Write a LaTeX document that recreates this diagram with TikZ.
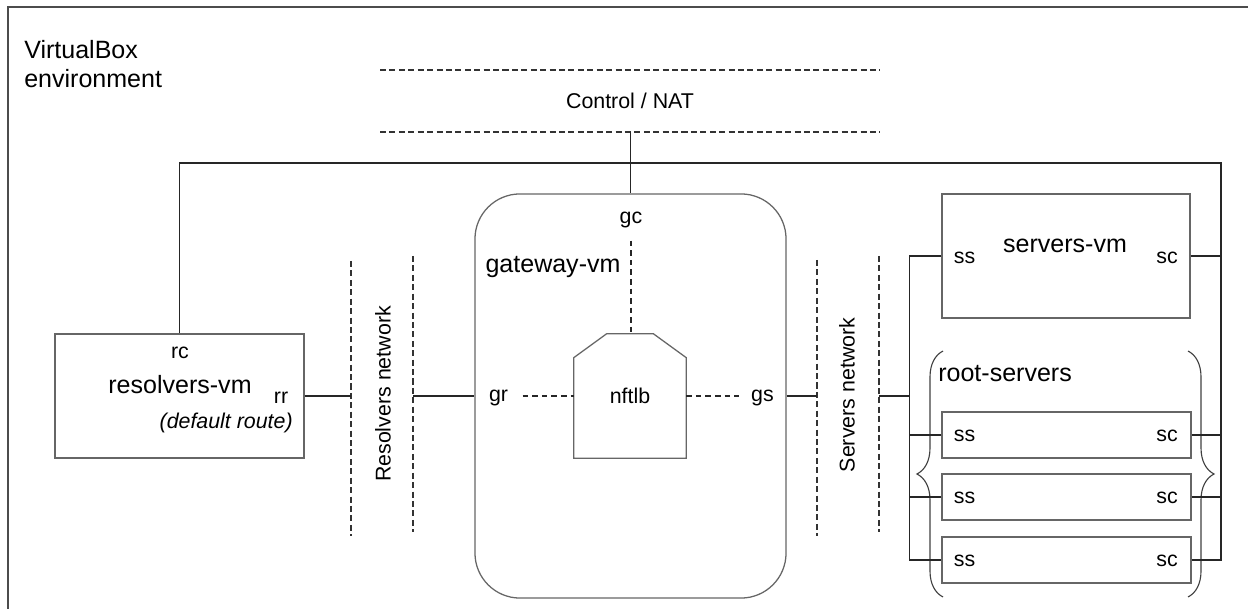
\documentclass[tikz,border=0pt]{standalone}
\usepackage{fontspec}
\setmainfont{Liberation Sans}
\usetikzlibrary{positioning, calc, decorations.pathreplacing}

\begin{document}
\begin{tikzpicture}[
  x=0.025cm, y=-0.025cm,
  grande/.style={font=\fontsize{17.8}{20.6}\selectfont, inner sep=0pt},
  piccolo/.style={font=\fontsize{15.2}{18}\selectfont, inner sep=0pt},
  vmbox/.style={draw=black!60, line width=0.9pt, inner sep=0pt},
  filo/.style={draw=black!85, line width=0.75pt},
  rete/.style={draw=black!80, line width=0.8pt, dash pattern=on 4.3pt off 2.4pt},
  interno/.style={draw=black!85, line width=0.8pt, dash pattern=on 4pt off 2.8pt},
  graffa/.style={draw=black!75, line width=0.8pt, decorate,
                 decoration={brace, amplitude=0.65cm}}
]
\useasboundingbox (0,0) rectangle (1248,609);

%--------------------------------------------------------------
% Cornice dell'ambiente
%--------------------------------------------------------------
\draw[draw=black!70, line width=1.4pt] (8,7) rectangle (1300,700);
\node[grande, align=left, anchor=north west] (vbox) at (24,40)
  {VirtualBox\\environment};

%--------------------------------------------------------------
% Rete Control / NAT
%--------------------------------------------------------------
\draw[rete] (380,70) -- (880,70);
\draw[rete] (380,132) -- (880,132);
\node[piccolo] (nat) at (630,101) {Control / NAT};
\coordinate (natbus) at (630.5,132);
\coordinate (busC) at (1221,163);

%--------------------------------------------------------------
% resolvers-vm
%--------------------------------------------------------------
\node[vmbox, minimum width=6.225cm, minimum height=3.1cm] (resolvers) at (179.5,396) {};
\node[piccolo] (rc) at (180,352.5) {rc};
\node[grande] (resname) at (180,384.5) {resolvers-vm};
\node[piccolo] (rr) at (281,397.5) {rr};
\node[piccolo, anchor=east] (defroute) at (293,422.5) {\itshape (default route)};

%--------------------------------------------------------------
% Resolvers network
%--------------------------------------------------------------
\draw[rete] (351,261) -- (351,536);
\draw[rete] (413,256) -- (413,532);
\coordinate (rnA) at (351,396);
\coordinate (rnB) at (413,396);
\node[piccolo, rotate=90] (rnlabel) at (383,394) {Resolvers network};

%--------------------------------------------------------------
% gateway-vm con nftlb
%--------------------------------------------------------------
\node[vmbox, rounded corners=1.125cm, minimum width=7.775cm, minimum height=10.1cm]
  (gateway) at (630.5,396) {};
\node[grande] (gwname) at (553,266.7) {gateway-vm};
\node[piccolo] (gc) at (631,220) {gc};
\node[piccolo] (gr) at (498.5,398) {gr};
\node[piccolo] (gs) at (762.5,398) {gs};

\node[piccolo, minimum width=2.8cm, minimum height=3.1cm] (nftlb) at (630,396) {nftlb};
\draw[vmbox] (nftlb.south west) -- ($(nftlb.north west)+(0,24)$)
  -- ($(nftlb.north west)+(33,0)$) -- ($(nftlb.north east)+(-33,0)$)
  -- ($(nftlb.north east)+(0,24)$) -- (nftlb.south east) -- cycle;

\draw[interno] ($(nftlb.north)+(1,-93)$) -- ($(nftlb.north)+(1,0)$);
\draw[interno] ($(nftlb.west)+(-51,0)$) -- (nftlb.west);
\draw[interno] (nftlb.east) -- ++(53,0);

%--------------------------------------------------------------
% Servers network
%--------------------------------------------------------------
\draw[rete] (817,260) -- (817,536);
\draw[rete] (879,256) -- (879,532);
\coordinate (snA) at (817,396);
\coordinate (snB) at (879,396);
\node[piccolo, rotate=90] (snlabel) at (847,395) {Servers network};

%--------------------------------------------------------------
% servers-vm e root-servers
%--------------------------------------------------------------
\node[vmbox, minimum width=6.2cm, minimum height=3.1cm] (servers) at (1066,256) {};
\node[grande] (srvname) at (1065,245.6) {servers-vm};
\node[piccolo] (ss0) at (964.5,258) {ss};
\node[piccolo] (sc0) at (1167,258) {sc};

\node[grande, anchor=west] (rootname) at (938,374) {root-servers};
\foreach \n/\y in {1/435, 2/497, 3/560}{
  \node[vmbox, minimum width=6.225cm, minimum height=1.15cm] (root\n) at (1066.5,\y) {};
  \node[piccolo] (ss\n) at (964.5,\y+1) {ss};
  \node[piccolo] (sc\n) at (1167,\y+1) {sc};
}
\draw[graffa] (943,597) -- (943,351);
\draw[graffa] (1188,351) -- (1188,597);

%--------------------------------------------------------------
% Collegamenti
%--------------------------------------------------------------
\coordinate (busS) at ($(servers.west)+(-32,0)$);
\draw[filo] (natbus) -- (gateway.north);
\draw[filo] (resolvers.north) |- (busC) |- (root3.east);
\draw[filo] (resolvers.east) -- (rnA);
\draw[filo] (rnB) -- (gateway.west);
\draw[filo] (gateway.east) -- (snA);
\draw[filo] (snB) -- (snB -| busS);
\draw[filo] (servers.west) -| (busS |- root3.west) -- (root3.west);
\draw[filo] (servers.east) -- (servers.east -| busC);
\foreach \n in {1, 2}{
  \draw[filo] (root\n.west) -- (root\n.west -| busS);
  \draw[filo] (root\n.east) -- (root\n.east -| busC);
}

\end{tikzpicture}
\end{document}
